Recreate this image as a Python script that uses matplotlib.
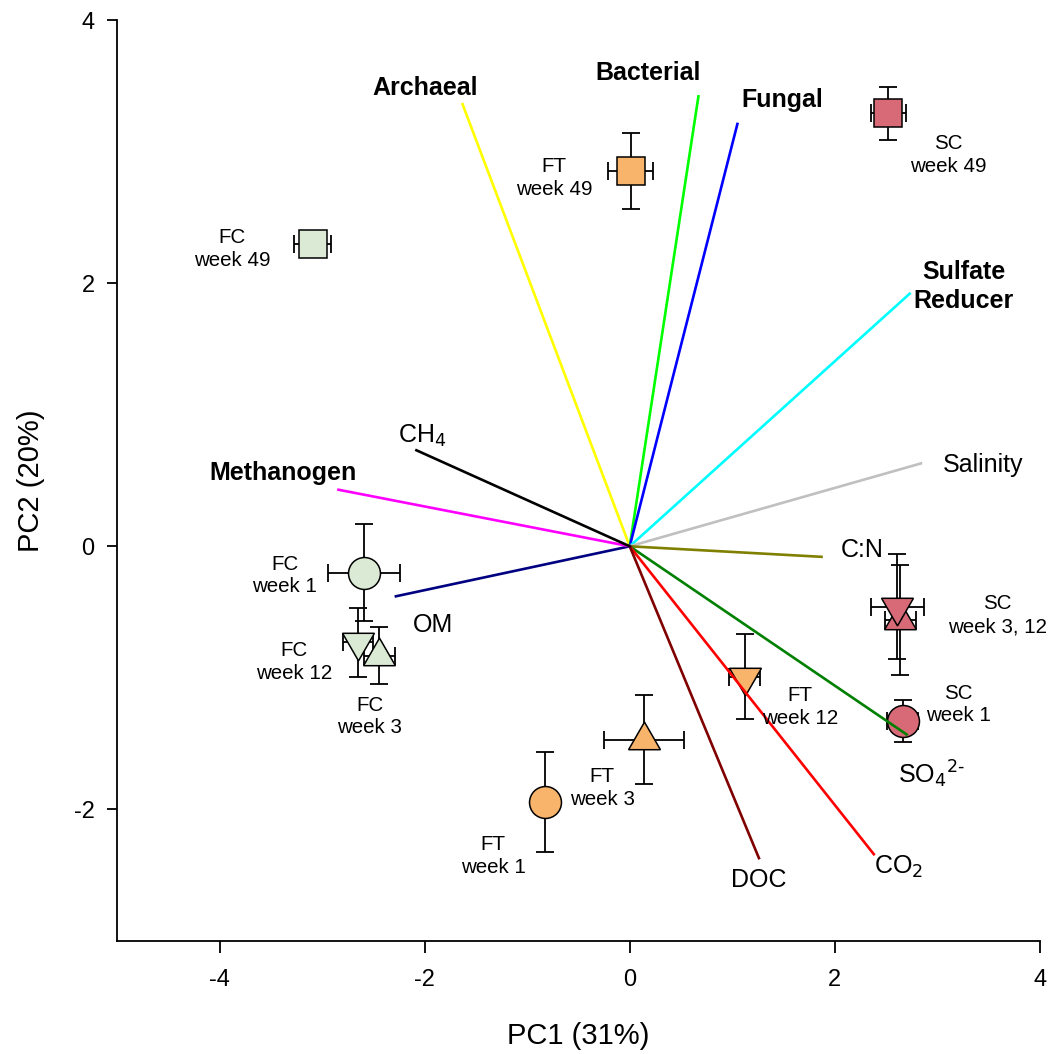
import numpy as np
import matplotlib
matplotlib.use("Agg")
import matplotlib.pyplot as plt

plt.rcParams['font.family'] = ['Liberation Sans', 'DejaVu Sans']
plt.rcParams['axes.unicode_minus'] = False

# sample scores (mean +- error)
sites = ['FC', 'FC', 'FC', 'FC', 'FT', 'FT', 'FT', 'FT', 'SC', 'SC', 'SC', 'SC']
weeks = [1, 3, 12, 49, 1, 3, 12, 49, 1, 3, 12, 49]
pc1 = [-2.59, -2.44, -2.65, -3.09, -0.83, 0.14, 1.12, 0.01, 2.66, 2.64, 2.61, 2.52]
pc2 = [-0.20, -0.83, -0.73, 2.30, -1.94, -1.47, -0.99, 2.85, -1.33, -0.56, -0.46, 3.29]
pc1_err = [0.35, 0.15, 0.15, 0.18, 0.08, 0.39, 0.15, 0.22, 0.15, 0.15, 0.26, 0.17]
pc2_err = [0.37, 0.22, 0.26, 0.08, 0.38, 0.34, 0.32, 0.29, 0.16, 0.42, 0.40, 0.20]
sample_labels = ['FC\nweek 1', 'FC\nweek 3', 'FC\nweek 12', 'FC\nweek 49',
                 'FT\nweek 1', 'FT\nweek 3', 'FT\nweek 12', 'FT\nweek 49',
                 'SC\nweek 1', None, 'SC\nweek 3, 12', 'SC\nweek 49']

# loading vectors
var_names = ['Archaeal', 'Bacterial', 'Fungal', 'Sulfate\nReducer', 'Salinity', 'C:N',
             r'SO$_4$$^{2\text{-}}$', r'CO$_2$', 'DOC', 'OM', 'Methanogen', r'CH$_4$']
var_x = [-1.63, 0.67, 1.05, 2.73, 2.84, 1.87, 2.70, 2.38, 1.26, -2.28, -2.84, -2.08]
var_y = [3.36, 3.42, 3.21, 1.92, 0.63, -0.08, -1.43, -2.34, -2.37, -0.38, 0.43, 0.73]
var_bold = [True, True, True, True, False, False, False, False, False, False, True, False]

site_colors = {'FC': '#DAEAD4', 'FT': '#F9B46C', 'SC': '#D76A76'}
week_markers = {1: 'o', 3: (3, 0, 0), 12: (3, 0, 180), 49: 's'}
week_ms = {1: 23, 3: 26.5, 12: 26.5, 49: 20}
var_colors = ['#FFFF00', '#00FF00', '#0000FF', '#00FFFF', '#C0C0C0', '#808000',
              '#008000', '#FF0000', '#800000', '#000080', '#FF00FF', '#000000']
# label offsets in points (layout only)
sample_off = [(-57, -2), (-7, -44), (-46, -14), (-58, -4),
              (-37, -39), (-30, -35), (40, -22), (-55, -5),
              (40, 12), (0, 0), (72, -6), (43, -30)]
var_off = [(-27, 12), (-36, 17), (32, 17), (39, 5), (45, -1), (29, 5),
           (18, -29), (18, -9), (0, -16), (27, -21), (-40, 12), (4, 10)]

fig = plt.figure(figsize=(10.5, 10.54), dpi=100)
ax = fig.add_axes([0.1114, 0.1072, 0.879, 0.8738])

for i in range(len(pc1)):
    ax.errorbar(pc1[i], pc2[i], xerr=pc1_err[i], yerr=pc2_err[i], fmt='none',
                ecolor='black', elinewidth=1.3, capsize=6.5, capthick=1.3, zorder=2)
    ax.plot(pc1[i], pc2[i], linestyle='none', marker=week_markers[weeks[i]],
            markersize=week_ms[weeks[i]], markerfacecolor=site_colors[sites[i]],
            markeredgecolor='black', markeredgewidth=1.1, zorder=3)
    if sample_labels[i]:
        ax.annotate(sample_labels[i], (pc1[i], pc2[i]), xytext=sample_off[i],
                    textcoords='offset points', ha='center', va='center',
                    fontsize=14.8, linespacing=1.25, zorder=5)

for i in range(len(var_x)):
    ax.plot([0, var_x[i]], [0, var_y[i]], color=var_colors[i], linewidth=1.9, zorder=4)
    ax.annotate(var_names[i], (var_x[i], var_y[i]), xytext=var_off[i],
                textcoords='offset points', ha='center', va='center',
                fontsize=18,
                fontweight='bold' if var_bold[i] else 'normal',
                linespacing=1.25, zorder=5)

ax.set_xlim(-5, 4)
ax.set_ylim(-3, 4)
ax.set_xticks([-4, -2, 0, 2, 4])
ax.set_yticks([-2, 0, 2, 4])
ax.spines['top'].set_visible(False)
ax.spines['right'].set_visible(False)
for s in ['left', 'bottom']:
    ax.spines[s].set_linewidth(1.3)
ax.tick_params(axis='x', direction='out', length=8.5, width=1.3, pad=12, labelsize=17)
ax.tick_params(axis='y', direction='out', length=7, width=1.3, pad=9, labelsize=17)
ax.set_xlabel('PC1 (31%)', fontsize=21, labelpad=22)
ax.set_ylabel('PC2 (20%)', fontsize=21, labelpad=21)

fig.savefig('out.png', dpi=100)
